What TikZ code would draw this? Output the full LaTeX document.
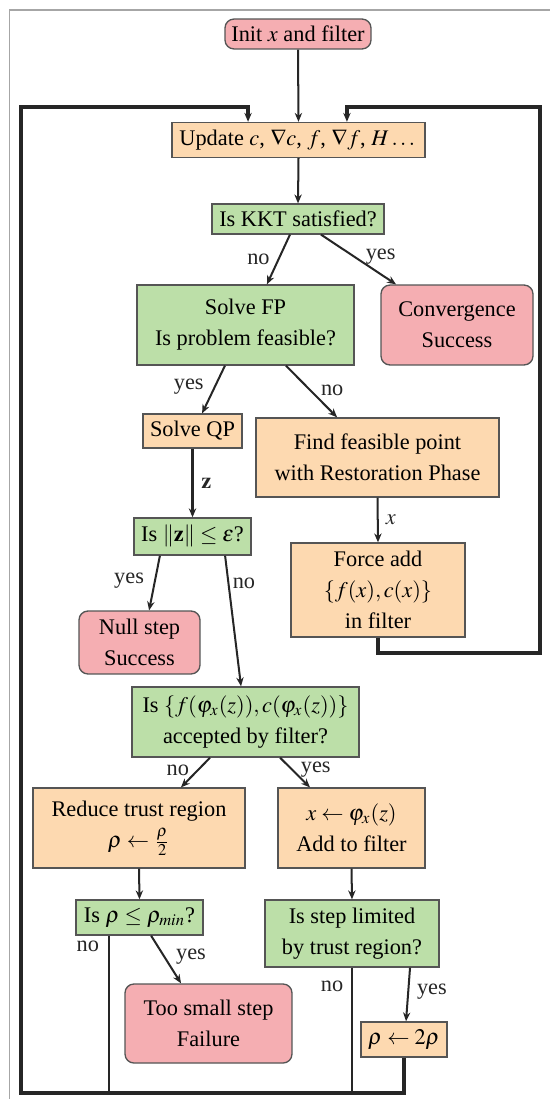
\documentclass[tikz,border=0pt]{standalone}
\usepackage{amssymb, amsmath}
\usepackage{mathptmx}
\usepackage{fontspec}
\setmainfont{Liberation Serif}
\usepackage{tikz}
\usetikzlibrary{arrows.meta}

\definecolor{stopred}{HTML}{F5AEB2}
\definecolor{procorange}{HTML}{FDD9B0}
\definecolor{testgreen}{HTML}{BCDFA8}
\definecolor{boxborder}{HTML}{555555}

\begin{document}
\begin{tikzpicture}[x=0.448pt, y=-0.448pt,
    box/.style={draw=boxborder, line width=0.6pt, align=center, inner sep=2pt,
                font=\fontsize{10pt}{14pt}\selectfont},
    wh/.style 2 args={minimum width=#1, minimum height=#2},
    startstop/.style={box, fill=stopred, rounded corners=4pt},
    process/.style={box, fill=procorange},
    decision/.style={box, fill=testgreen},
    arrow/.style={-{Stealth[length=4pt, width=3.3pt]}, line width=0.9pt, black!85},
    branch/.style={line width=0.9pt, black!85},
    loopline/.style={arrow, line width=1.4pt},
    lbl/.style={font=\fontsize{10pt}{12pt}\selectfont, inner sep=1.5pt}]

  \useasboundingbox (0,0) rectangle (550,1099);
  \draw[gray!70, line width=0.5pt] (9.5,1099) -- (9.5,10) -- (550,10);

  % boxes
  \node[startstop, wh={65.4pt}{13.4pt}] (init)     at (298,34)     {Init $x$ and filter};
  \node[process,   wh={113.3pt}{15.7pt}] (update)  at (298.5,140)  {Update $c$, $\nabla c$, $f$, $\nabla f$, $H\dots$};
  \node[decision,  wh={77pt}{13.4pt}]   (kkt)      at (298,219)    {Is KKT satisfied?};
  \node[decision,  wh={97.2pt}{35.8pt}] (fp)       at (245.5,325)  {Solve FP\\Is problem feasible?};
  \node[startstop, wh={68.1pt}{35.8pt}] (conv)     at (457,325)    {Convergence\\Success};
  \node[process,   wh={44.4pt}{15.2pt}] (qp)       at (192.5,431)  {Solve QP};
  \node[process,   wh={108.9pt}{35.4pt}] (restore) at (377.5,457.5) {Find feasible point\\with Restoration Phase};
  \node[decision,  wh={52.4pt}{16.6pt}] (znorm)    at (192.5,536.5) {Is $\|\mathbf{z}\| \leq \varepsilon$?};
  \node[process,   wh={78pt}{42.1pt}]   (force)    at (378,590)    {Force add\\$\{f(x), c(x)\}$\\in filter};
  \node[startstop, wh={54.2pt}{28.2pt}] (null)     at (139.5,642.5) {Null step\\Success};
  \node[decision,  wh={101.7pt}{31.4pt}] (accept)  at (245.5,722)  {Is $\{f(\varphi_x(z)), c(\varphi_x(z))\}$\\accepted by filter?};
  \node[process,   wh={95pt}{35.8pt}]   (reduce)   at (139,828)    {Reduce trust region\\$\rho \leftarrow \frac{\rho}{2}$};
  \node[process,   wh={65.9pt}{35.8pt}] (accstep)  at (351.5,828)  {$x \leftarrow \varphi_x(z)$\\Add to filter};
  \node[decision,  wh={56.9pt}{15.7pt}] (rhomin)   at (139.5,917.5) {Is $\rho \leq \rho_{min}$?};
  \node[decision,  wh={78pt}{30pt}]     (steplim)  at (352,933.5)  {Is step limited\\by trust region?};
  \node[startstop, wh={74.8pt}{35.4pt}] (toosmall) at (208.5,1023.5) {Too small step\\Failure};
  \node[process,   wh={38.5pt}{15.7pt}] (grow)     at (404,1039.5) {$\rho \leftarrow 2\rho$};

  \coordinate (botleft)  at (21,1093);
  \coordinate (topleft)  at (21,107);
  \coordinate (topright) at (540,107);
  \coordinate (botright) at (540,653);

  % connectors
  \draw[arrow] (init.south) -- (update.north);
  \draw[arrow] (update.south) -- (kkt.north);
  \draw[arrow] ([xshift=-3.6pt]kkt.south) -- node[lbl, left=2pt] {no} ([xshift=9.6pt]fp.north);
  \draw[arrow] ([xshift=10.3pt]kkt.south) -- node[lbl, pos=0.45, right=3pt] {yes} ([xshift=-27.3pt]conv.north);
  \draw[arrow] ([xshift=-9.2pt]fp.south) -- node[lbl, pos=0.45, left=3pt] {yes} ([xshift=4.3pt]qp.north);
  \draw[arrow] ([xshift=18.1pt]fp.south) -- node[lbl, pos=0.47, right=3pt] {no} ([xshift=-18.1pt]restore.north);
  \draw[arrow] (qp.south) -- node[lbl, right=2pt] {$\mathbf{z}$} (znorm.north);
  \draw[arrow] (restore.south) -- node[lbl, right=1.7pt] {$x$} (force.north);
  \draw[arrow] ([xshift=-14.6pt]znorm.south) -- node[lbl, pos=0.45, left=3pt] {yes} ([xshift=4.3pt]null.north);
  \draw[arrow] ([xshift=14.6pt]znorm.south) -- node[lbl, pos=0.21, right=0pt] {no} ([xshift=-2pt]accept.north);
  \draw[arrow] ([xshift=-15.9pt]accept.south) -- node[lbl, pos=0.42, left=2pt] {no} ([xshift=18.8pt]reduce.north);
  \draw[arrow] ([xshift=15.5pt]accept.south) -- node[lbl, pos=0.4, right=2pt] {yes} ([xshift=-18.6pt]accstep.north);
  \draw[arrow] (reduce.south) -- (rhomin.north);
  \draw[arrow] (accstep.south) -- (steplim.north);
  \draw[arrow] ([xshift=5.2pt]rhomin.south) -- node[lbl, pos=0.43, right=3.5pt] {yes} ([xshift=-12.3pt]toosmall.north);
  \draw[arrow] ([xshift=26pt]steplim.south) -- node[lbl, pos=0.44, right=2pt] {yes} ([xshift=0.9pt]grow.north);

  % back to the update step
  \draw[branch] ([xshift=-13.7pt]rhomin.south) -- node[lbl, pos=0.07, left=2.5pt] {no} ([xshift=-13.7pt]rhomin.south |- botleft);
  \draw[branch] (steplim.south) -- node[lbl, pos=0.15, left=2pt] {no} (steplim.south |- botleft);
  \draw[loopline] (grow.south) |- (botleft) -- (topleft) -| ([xshift=-22.6pt]update.north);
  \draw[loopline] (force.south) |- (botright) -- (topright) -| ([xshift=21.7pt]update.north);

\end{tikzpicture}
\end{document}
